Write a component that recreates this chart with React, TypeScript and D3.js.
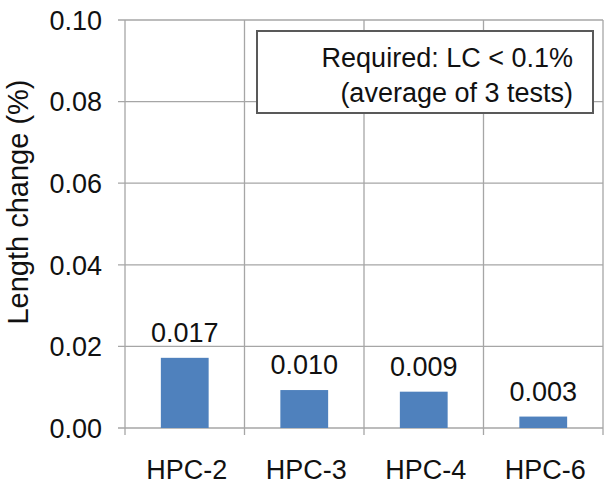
import React from 'react';
import * as d3 from 'd3';

// values
const categories = ['HPC-2', 'HPC-3', 'HPC-4', 'HPC-6'];
const lengthChange = [0.0172, 0.0093, 0.0089, 0.0028];
const valueLabels = ['0.017', '0.010', '0.009', '0.003'];
const yTicks = [0, 0.02, 0.04, 0.06, 0.08, 0.1];
const legendLines = ['Required: LC < 0.1%', '(average of 3 tests)'];

const W = 606;
const H = 491;
const margin = { top: 20, right: 3, bottom: 63, left: 125 };
const FONT = '"Liberation Sans", Arial, sans-serif';
const GRID = '#a6a6a6';

export default function App() {
  const x = d3.scaleBand<string>()
    .domain(categories)
    .range([margin.left, W - margin.right])
    .padding(0);

  // baseline sits at 428
  const y = d3.scaleLinear()
    .domain([0, 0.1])
    .range([428, margin.top]);

  const barW = x.bandwidth() * 0.4;
  const boundaries = [...categories.map(c => x(c) as number), W - margin.right];

  return (
    <svg
      width={W}
      height={H}
      style={{ position: 'fixed', top: 0, left: 0, background: '#fff' }}
      fontFamily={FONT}
    >
      {/* horizontal grid + y ticks */}
      {yTicks.map(t => (
        <g key={t}>
          <line x1={margin.left - 7} x2={W - margin.right} y1={y(t)} y2={y(t)} stroke={GRID} strokeWidth={1.3} />
          <text x={margin.left - 23} y={y(t)} dy="0.36em" textAnchor="end" fontSize={27} fill="#111">
            {t.toFixed(2)}
          </text>
        </g>
      ))}

      {/* vertical grid at category boundaries */}
      {boundaries.map((bx, i) => (
        <line key={i} x1={bx} x2={bx} y1={margin.top} y2={y(0) + 7} stroke={GRID} strokeWidth={1.3} />
      ))}

      {/* bars */}
      {categories.map((c, i) => {
        const cx = (x(c) as number) + x.bandwidth() / 2;
        return (
          <g key={c}>
            <rect
              x={cx - barW / 2}
              y={y(lengthChange[i])}
              width={barW}
              height={y(0) - y(lengthChange[i])}
              fill="#4F81BD"
            />
            <text x={cx} y={y(lengthChange[i]) - 16} textAnchor="middle" fontSize={27} fill="#111">
              {valueLabels[i]}
            </text>
            <text x={cx + 2} y={479} textAnchor="middle" fontSize={27} fill="#111">
              {c}
            </text>
          </g>
        );
      })}

      {/* y axis title */}
      <text
        transform="translate(28,202) rotate(-90)"
        textAnchor="middle"
        fontSize={29}
        fill="#111"
      >
        Length change (%)
      </text>

      {/* legend box */}
      <rect x={257} y={31} width={336} height={82} fill="#fff" stroke="#595959" strokeWidth={2} />
      {legendLines.map((l, i) => (
        <text key={i} x={573} y={67 + i * 35} textAnchor="end" fontSize={27} fill="#111">
          {l}
        </text>
      ))}
    </svg>
  );
}
